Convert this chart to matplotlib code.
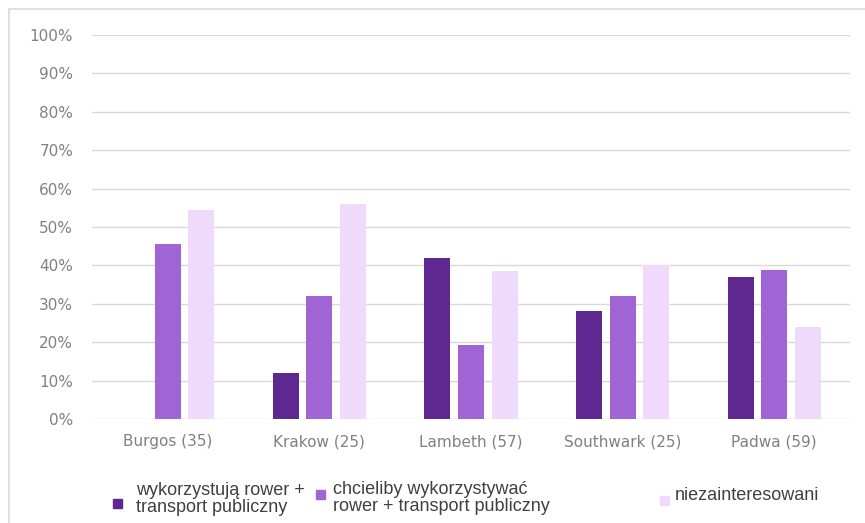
import matplotlib.pyplot as plt
import numpy as np
from matplotlib.patches import Rectangle
from matplotlib.ticker import PercentFormatter

# udział respondentów w każdym mieście (n w nawiasie)
cities = ['Burgos (35)', 'Krakow (25)', 'Lambeth (57)', 'Southwark (25)', 'Padwa (59)']
using_bike_pt = [0.0, 12.0, 42.0, 28.0, 37.0]
would_use = [45.7, 32.0, 19.3, 32.0, 38.8]
not_interested = [54.3, 56.0, 38.6, 40.0, 24.0]

series_labels = ['wykorzystują rower +\ntransport publiczny',
                 'chcieliby wykorzystywać\nrower + transport publiczny',
                 'niezainteresowani']
colors = ['#5f2891', '#a164d4', '#f0dafb']

W, H = 865, 523
fig = plt.figure(figsize=(W / 100, H / 100), dpi=100)
ax = fig.add_axes([92 / W, 1 - 419 / H, (850 - 92) / W, (419 - 35) / H])

x = np.arange(len(cities))
width = 0.172
step = 0.222
for i, vals in enumerate([using_bike_pt, would_use, not_interested]):
    ax.bar(x + (i - 1) * step, vals, width=width, color=colors[i], zorder=3)

ax.set_xlim(-0.5, len(cities) - 0.5)
ax.set_ylim(0, 100)
ax.set_yticks(np.arange(0, 101, 10))
ax.yaxis.set_major_formatter(PercentFormatter(decimals=0))
ax.set_xticks(x)
ax.set_xticklabels(cities)
ax.grid(axis='y', color='#d9d9d9', linewidth=1.0, zorder=0)
for s in ax.spines.values():
    s.set_visible(False)
ax.tick_params(axis='both', length=0, colors='#808080', labelsize=11,
               labelfontfamily='DejaVu Sans')
ax.tick_params(axis='y', pad=13.5)
ax.tick_params(axis='x', pad=11)

# ramka wykresu
fig.patches.append(Rectangle((8.5 / W, -0.1), 1.2, 1 - 9 / H + 0.1,
                             transform=fig.transFigure, fill=False,
                             edgecolor='#d9d9d9', linewidth=1.2))

# legenda
marker_pos = [(113, 508), (316, 499), (660, 505)]
text_pos = [(136, 499), (333, 498), (675, 496)]
for lbl, c, (mx, my), (tx, ty) in zip(series_labels, colors, marker_pos, text_pos):
    fig.patches.append(Rectangle((mx / W, 1 - my / H), 9 / W, 9 / H,
                                 transform=fig.transFigure, color=c))
    fig.text(tx / W, 1 - ty / H, lbl, ha='left', va='center', fontsize=13,
             color='#404040', family=['Liberation Sans', 'DejaVu Sans'],
             linespacing=1.02)

fig.savefig('out.png', dpi=100)
